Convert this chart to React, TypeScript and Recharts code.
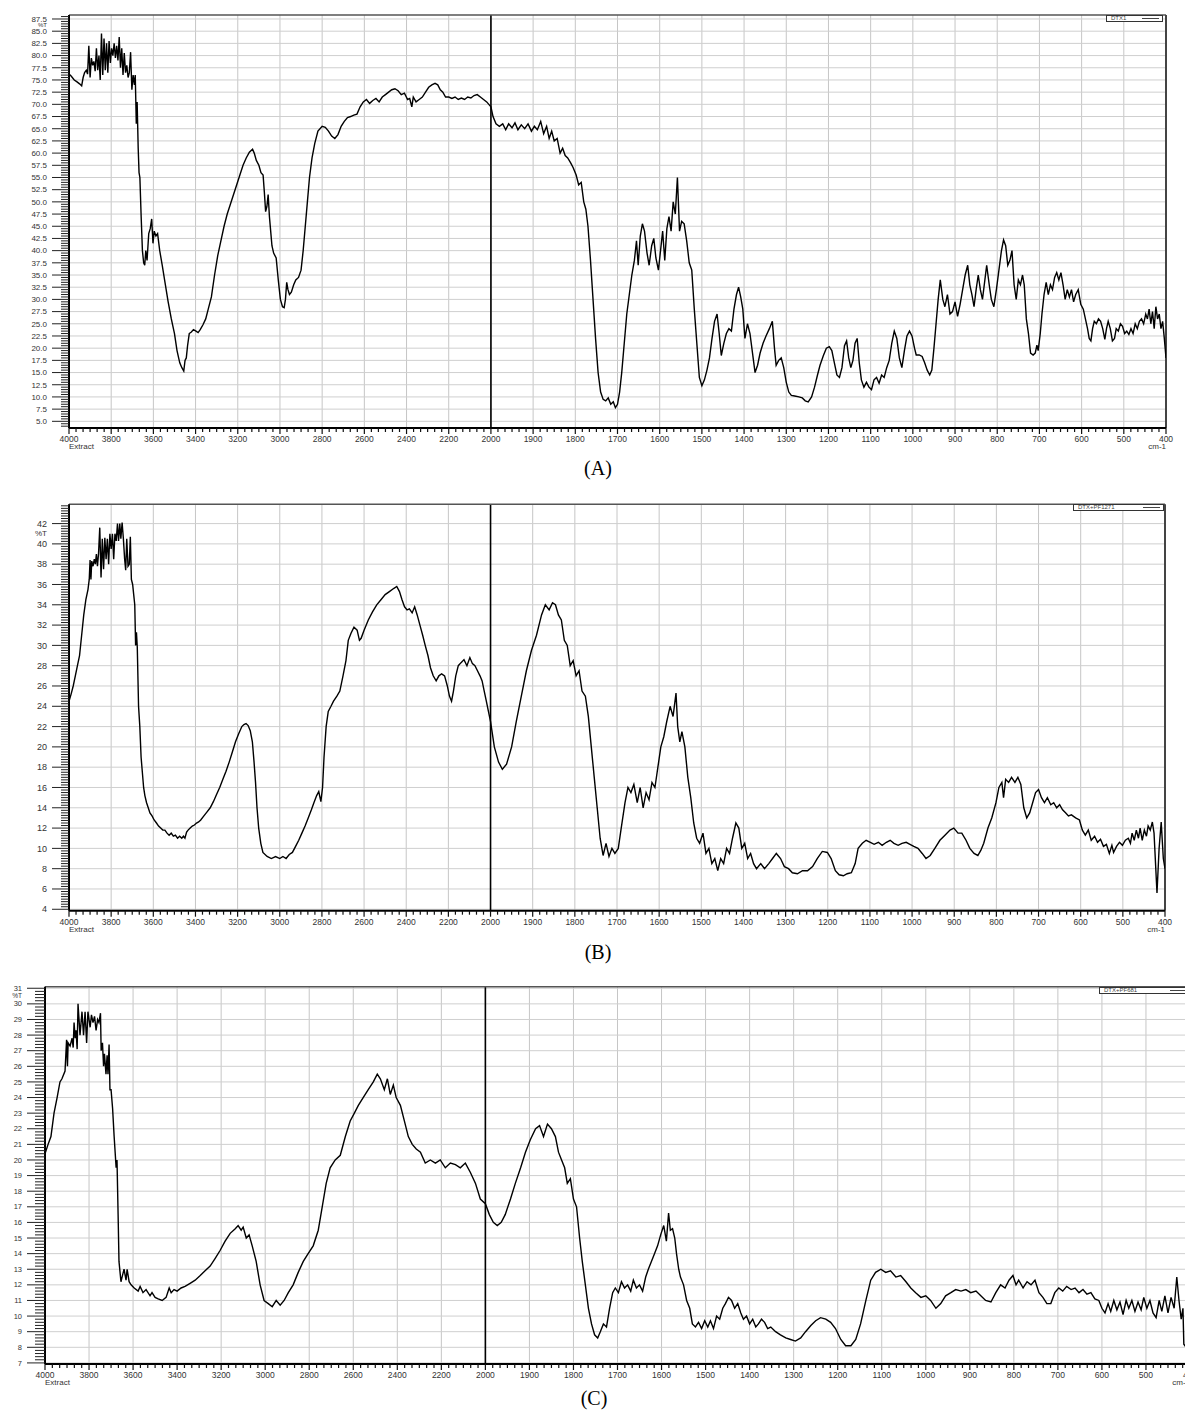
import React from 'react';
import { LineChart, Line, XAxis, YAxis, ReferenceLine } from 'recharts';

// ---------- DATA: [wavenumber cm-1, %T] ----------
const SPEC_A: [number, number][] = [
  [4000,76.2],[3990,75.8],[3975,75.0],[3962,74.6],[3950,74.2],[3940,73.8],[3933,75.5],[3926,76.5],[3918,77],[3912,76.2],
  [3906,82],[3900,75.5],[3894,79.5],[3888,78],[3882,78.8],[3876,76.8],[3870,81.5],[3864,77],[3858,80],[3852,75],
  [3846,84.5],[3840,76],[3834,83.5],[3828,77],[3822,82.5],[3816,76.5],[3810,83],[3804,78.5],[3798,81.5],[3792,80],
  [3786,82.5],[3780,79.5],[3774,82],[3768,79],[3762,83.8],[3756,77.5],[3750,81.5],[3744,76],[3738,80.5],[3732,76.5],
  [3726,78],[3720,75.5],[3714,76.5],[3708,80.7],[3702,73],[3696,76],[3690,74],[3686,76],[3681,66],[3677,70.5],
  [3672,61],[3668,56],[3664,55],[3658,47],[3652,40],[3646,37.5],[3641,37],[3636,40],[3630,38],[3622,43.5],
  [3615,44.5],[3608,46.5],[3602,41.5],[3596,44],[3588,43],[3580,43.5],[3570,40],[3558,37],[3545,33.5],[3530,29.5],
  [3515,26],[3500,23],[3488,19.5],[3475,17],[3465,16],[3456,15.3],[3450,17.5],[3444,18],[3438,20.5],[3430,23],
  [3420,23.3],[3410,23.8],[3398,23.5],[3388,23.2],[3378,23.8],[3365,24.8],[3352,26],[3340,28],[3325,30.5],[3310,35],
  [3295,39],[3280,42],[3265,45],[3250,47.5],[3235,49.5],[3220,51.5],[3205,53.5],[3190,55.5],[3175,57.5],[3160,59],
  [3145,60.2],[3130,60.8],[3122,60],[3112,58.5],[3100,57.5],[3090,56],[3080,55.5],[3074,52],[3068,48],[3062,49],
  [3056,51.5],[3050,47],[3044,44],[3038,41],[3030,39.5],[3018,38.5],[3008,34],[2998,30],[2988,28.5],[2980,28.3],
  [2974,30],[2968,33.5],[2962,32],[2955,31],[2946,31.5],[2935,33],[2925,34],[2912,34.5],[2900,36],[2890,40],
  [2880,45],[2870,50],[2860,55],[2848,59],[2835,62],[2820,64.5],[2800,65.5],[2785,65.3],[2770,64.5],[2755,63.5],
  [2740,63],[2725,63.8],[2710,65.5],[2695,66.5],[2680,67.3],[2665,67.5],[2650,67.8],[2635,68],[2620,69.5],[2605,70.5],
  [2590,71],[2575,70.2],[2560,70.8],[2545,71.2],[2530,70.5],[2515,71.5],[2500,72],[2485,72.5],[2470,73],[2455,73.2],
  [2440,72.8],[2425,72],[2410,72.3],[2395,71],[2385,71.2],[2375,69.5],[2368,71.5],[2355,70.5],[2340,71],[2325,71.5],
  [2310,72.5],[2295,73.5],[2280,74],[2265,74.3],[2252,74],[2240,73],[2228,72.5],[2215,71.5],[2200,71.5],[2185,71.2],
  [2170,71.5],[2155,71],[2140,71.3],[2125,71],[2110,71.5],[2095,71.3],[2080,71.8],[2065,72],[2050,71.5],[2035,71],
  [2020,70.5],[2010,70],[2000,69.5],
  [1995,67.5],[1988,66],[1980,65.5],[1972,66],[1965,64.8],[1958,66],[1950,65.2],[1943,66.2],[1936,64.8],[1928,65.8],
  [1920,65],[1912,66],[1904,64.5],[1897,65.5],[1890,64.8],[1882,66.5],[1875,64],[1868,65.5],[1862,63],[1856,64.5],
  [1850,62.5],[1843,63],[1836,60],[1830,61],[1824,59.5],[1818,59],[1811,58],[1805,57],[1798,55.5],[1792,53.5],
  [1786,54],[1780,50],[1775,48.5],[1770,45],[1764,38],[1758,30],[1752,22],[1746,15],[1740,11],[1734,9.5],
  [1728,9.2],[1722,9.8],[1716,8.5],[1710,9],[1705,7.8],[1700,8.5],[1695,11],[1690,15],[1684,21],[1678,27],
  [1672,31],[1666,35],[1660,38],[1655,42],[1651,37],[1646,43],[1641,45.5],[1636,44],[1630,39.5],[1625,37],
  [1619,41],[1614,42.5],[1609,38.5],[1603,36],[1598,40],[1593,44],[1588,38],[1583,44.5],[1578,47],[1573,44],
  [1568,50],[1563,47.5],[1558,55],[1553,44],[1548,46],[1542,45.5],[1536,42],[1530,37.5],[1524,36],[1518,28],
  [1512,21],[1506,14],[1500,12.3],[1494,13.5],[1488,15.5],[1482,18],[1476,22],[1470,25.5],[1464,27],[1459,23],
  [1454,18.5],[1448,21],[1442,23],[1436,24],[1430,23.5],[1424,28],[1418,31],[1413,32.5],[1408,30.5],[1403,28],
  [1398,22],[1392,25],[1386,23],[1380,19],[1374,15],[1368,16.5],[1362,19],[1355,21],[1348,22.5],[1340,24],
  [1333,25.5],[1328,20],[1324,16.5],[1318,17.5],[1312,18],[1306,16],[1300,13],[1294,11],[1288,10.3],[1280,10.2],
  [1270,10],[1262,9.8],[1255,9.2],[1248,9],[1240,10],[1233,12],[1226,14.5],[1220,16.5],[1212,18.5],[1205,20],
  [1198,20.3],[1192,19.5],[1186,17],[1180,14.5],[1174,14],[1168,16],[1162,20.5],[1157,21.5],[1152,18],[1147,16],
  [1142,17.5],[1137,21],[1132,22],[1127,17],[1122,13.5],[1116,12],[1110,13],[1104,12],[1098,11.5],[1092,13.5],
  [1086,14],[1080,12.8],[1074,14.5],[1068,14],[1062,16],[1056,17.5],[1050,21],[1044,23.5],[1038,22],[1032,18],
  [1026,16],[1020,19.5],[1014,22.5],[1008,23.5],[1002,22.5],[996,20],[992,18.6],[985,18.6],[978,18.3],[972,17],
  [966,15.5],[960,14.5],[955,15.5],[950,20],[945,25],[940,30],[935,34],[929,30],[924,28.5],[918,31],
  [912,27],[906,27.5],[900,29.5],[894,26.5],[888,29],[882,32],[876,35],[870,37],[865,33],[860,31],
  [855,28.5],[850,32],[845,35],[840,32],[835,30],[830,33.5],[825,37],[819,33],[814,30],[808,28.5],
  [802,32],[796,36],[790,40],[785,42.2],[780,41],[775,37],[770,38],[765,40],[760,33],[755,30],
  [750,34],[745,33],[740,35],[736,33],[731,26],[726,23],[721,19],[715,18.6],[710,19],[706,20.6],
  [703,19.5],[698,23],[694,27],[689,31],[684,33.5],[679,31],[674,33],[669,32],[664,34.5],[659,35.5],
  [654,34],[649,35.5],[644,33],[639,30],[634,32],[629,30.5],[624,32],[619,29.5],[614,31],[608,32],
  [602,29],[596,28],[591,26],[586,24],[582,22],[578,21.5],[574,24],[570,25.5],[565,25],[560,26],
  [555,25.5],[550,24],[545,21.8],[541,24],[537,25.5],[532,24],[527,21.5],[522,22],[518,24],[513,23.5],
  [508,25],[503,24.5],[498,23],[493,23.5],[488,22.8],[483,24],[478,23],[473,25],[468,24],[463,25.5],
  [458,26],[453,25],[448,27],[444,26],[440,28],[436,25],[432,27.5],[428,24],[424,28.5],[420,26],
  [416,27],[412,24],[408,25.5],[404,22],[400,18],
];

const SPEC_B: [number, number][] = [
  [4000,24.5],[3990,25.2],[3980,26],[3970,27],[3960,28],[3950,29],[3940,31],[3930,33],[3920,34.5],[3910,35.5],
  [3904,36.5],[3900,38.4],[3896,36.5],[3892,38.3],[3886,37.8],[3880,38.5],[3875,38],[3870,39],[3865,37.8],[3860,39],
  [3854,41.6],[3848,36.7],[3842,40.5],[3836,37.5],[3830,40.6],[3824,38.5],[3818,40.5],[3812,38],[3806,41],[3800,39.5],
  [3794,41],[3788,38.5],[3782,41],[3776,40.3],[3770,42],[3765,40.3],[3759,42],[3754,40.5],[3748,42.1],[3742,40.5],
  [3736,38.5],[3731,37.4],[3726,40.5],[3720,37.8],[3714,38],[3709,40.7],[3704,36.5],[3698,36],[3693,35],[3688,34],
  [3684,30],[3680,31.3],[3676,29.8],[3670,24],[3664,22],[3658,19],[3652,17.5],[3646,16],[3640,15.2],[3632,14.5],
  [3624,14],[3616,13.5],[3606,13.2],[3596,12.8],[3585,12.5],[3575,12.2],[3565,12],[3555,11.8],[3545,11.8],[3535,11.5],
  [3525,11.3],[3515,11.5],[3505,11.2],[3495,11.3],[3485,11],[3475,11.2],[3465,11],[3457,11.2],[3450,11],[3442,11.6],
  [3435,11.8],[3425,12],[3415,12.2],[3405,12.3],[3395,12.5],[3385,12.6],[3375,12.8],[3360,13.2],[3345,13.6],[3330,14],
  [3315,14.6],[3300,15.3],[3285,16],[3270,16.8],[3255,17.6],[3240,18.5],[3225,19.5],[3210,20.5],[3195,21.3],[3180,22],
  [3170,22.2],[3160,22.3],[3150,22.1],[3140,21.6],[3130,20.5],[3122,18.5],[3115,16.5],[3108,14],[3100,12],[3090,10.5],
  [3080,9.6],[3060,9.2],[3040,9.0],[3020,9.2],[3000,9.0],[2985,9.2],[2970,9.0],[2955,9.4],[2940,9.6],[2925,10.2],
  [2910,10.8],[2895,11.5],[2880,12.2],[2865,13],[2850,13.8],[2838,14.5],[2825,15.2],[2815,15.6],[2805,14.6],[2797,16],
  [2790,19],[2780,22],[2770,23.5],[2757,24],[2745,24.5],[2729,25],[2715,25.5],[2700,27],[2686,28.5],[2675,30.5],
  [2662,31.2],[2648,31.8],[2633,31.5],[2622,30.5],[2614,30.7],[2600,31.5],[2580,32.5],[2560,33.3],[2540,34],[2520,34.5],
  [2500,35],[2480,35.3],[2460,35.6],[2445,35.8],[2432,35.3],[2420,34.5],[2408,33.8],[2396,33.5],[2385,33.6],[2372,33.2],
  [2360,33.8],[2348,33],[2335,32],[2322,31],[2310,30],[2297,29],[2285,27.8],[2272,27],[2258,26.5],[2245,27],
  [2232,27.2],[2218,27],[2205,26],[2195,25],[2185,24.5],[2176,25.5],[2165,27],[2153,28],[2140,28.3],[2126,28.6],
  [2112,28],[2098,28.8],[2086,28.2],[2074,28],[2062,27.5],[2050,27],[2040,26.5],[2030,25.5],[2020,24.5],[2010,23.5],
  [2000,22.5],
  [1991,20],[1981,18.5],[1972,17.8],[1962,18.3],[1950,20],[1939,22.5],[1927,25],[1915,27.5],[1903,29.5],[1891,31],
  [1879,33],[1870,34],[1861,33.5],[1853,34.2],[1846,34],[1839,33],[1832,32.5],[1825,30.5],[1818,30],[1811,28],
  [1804,28.5],[1797,27],[1790,27.5],[1783,25.5],[1775,25],[1768,23],[1761,20],[1754,17],[1747,14],[1740,11],
  [1733,9.3],[1726,10.5],[1719,9.2],[1712,10],[1705,9.5],[1697,10],[1690,12],[1681,14.5],[1674,16],[1667,15.5],
  [1660,16.3],[1652,14.5],[1645,16],[1638,14],[1631,15.5],[1624,14.8],[1617,16.5],[1610,16],[1603,18],[1596,20],
  [1589,21],[1582,22.5],[1574,24],[1567,23],[1560,25.3],[1556,22],[1551,20.5],[1546,21.5],[1539,20],[1532,17],
  [1525,15],[1518,12.5],[1511,11],[1504,10.5],[1496,11.5],[1489,9.5],[1482,10],[1475,8.5],[1468,9],[1461,7.8],
  [1454,9],[1447,8.5],[1440,10],[1433,9.5],[1426,11],[1418,12.5],[1411,12],[1404,10],[1397,10.5],[1390,9],
  [1383,9.5],[1376,8.5],[1369,8],[1359,8.5],[1350,8],[1340,8.5],[1331,9],[1322,9.5],[1312,9],[1303,8.2],
  [1293,8],[1284,7.6],[1272,7.5],[1260,7.8],[1248,7.8],[1236,8.2],[1225,9],[1213,9.7],[1201,9.6],[1192,9],
  [1182,7.8],[1173,7.4],[1163,7.3],[1154,7.5],[1144,7.6],[1135,8.5],[1128,10],[1118,10.5],[1109,10.8],[1099,10.6],
  [1090,10.4],[1080,10.6],[1071,10.3],[1061,10.6],[1052,10.8],[1043,10.5],[1033,10.3],[1024,10.5],[1014,10.6],[1005,10.4],
  [996,10.2],[986,10],[976,9.5],[967,9],[957,9.3],[946,10],[934,10.8],[922,11.3],[910,11.8],[901,12],
  [891,11.5],[882,11.5],[872,10.8],[863,10],[853,9.5],[844,9.3],[837,9.8],[830,10.5],[820,12],[811,13],
  [801,14.5],[794,16],[787,16.5],[783,15],[778,16.8],[771,16.5],[764,17],[756,16.5],[749,17],[742,16.3],
  [735,14],[728,13],[721,13.5],[714,14.5],[707,15.5],[700,15.8],[693,15],[686,14.5],[679,15],[671,14.3],
  [664,14.5],[657,14],[650,14.3],[643,13.8],[636,13.5],[629,13.2],[622,13.3],[612,13],[603,12.8],[596,11.8],
  [589,11.3],[582,11.8],[575,10.8],[567,11.2],[560,10.6],[553,10.9],[546,10.2],[539,10.4],[532,9.5],[526,10.3],
  [522,9.6],[515,10.2],[508,10.6],[501,10.3],[494,10.8],[487,11],[482,10.5],[478,11.5],[473,10.8],[468,11.8],
  [463,11],[459,12],[454,10.8],[449,11.8],[444,11.2],[440,12.2],[435,11.8],[430,12.6],[426,11.5],[419,5.6],
  [414,10],[409,12.6],[404,9],[400,8],
];

const SPEC_C: [number, number][] = [
  [4000,20.4],[3986,21],[3973,21.5],[3959,23],[3945,24],[3932,25],[3923,25.2],[3909,25.7],[3902,27.7],[3898,26],
  [3895,27.5],[3886,27.3],[3877,27.8],[3872,27.2],[3868,28.8],[3863,27.8],[3859,28.3],[3854,27.1],[3850,30],[3841,28],
  [3832,29.5],[3825,28],[3818,29.5],[3811,27.5],[3805,29.5],[3795,28.5],[3789,29.3],[3782,28.8],[3775,29.2],[3768,28.3],
  [3761,29],[3755,28.8],[3748,29.4],[3745,27],[3739,27.5],[3734,26],[3730,26.8],[3723,25.5],[3718,26.7],[3714,25.5],
  [3709,27.4],[3705,24.5],[3700,24.5],[3693,23.3],[3686,21.5],[3677,19.5],[3673,20],[3668,16.5],[3664,13.5],[3655,12.2],
  [3650,12.5],[3641,13],[3632,12.3],[3627,13],[3618,12.2],[3609,12],[3595,11.8],[3577,11.6],[3568,11.9],[3555,11.5],
  [3541,11.7],[3523,11.3],[3514,11.5],[3500,11.2],[3486,11.1],[3468,11],[3450,11.2],[3436,11.8],[3427,11.5],[3414,11.7],
  [3400,11.6],[3382,11.8],[3364,11.9],[3341,12.1],[3318,12.3],[3295,12.6],[3273,12.9],[3250,13.2],[3227,13.7],[3205,14.2],
  [3182,14.8],[3159,15.3],[3136,15.6],[3123,15.8],[3109,15.5],[3100,15.7],[3086,15],[3073,15.2],[3059,14.5],[3041,13.5],
  [3023,12],[3005,11],[2986,10.8],[2968,10.6],[2950,11],[2932,10.7],[2914,11],[2895,11.5],[2873,12],[2850,12.8],
  [2827,13.5],[2805,14],[2782,14.5],[2759,15.5],[2741,17],[2723,18.5],[2705,19.5],[2682,20],[2659,20.3],[2636,21.5],
  [2614,22.5],[2595,23],[2577,23.5],[2555,24],[2532,24.5],[2509,25],[2491,25.5],[2477,25.2],[2459,24.5],[2445,25.2],
  [2432,24.2],[2418,24.8],[2405,24],[2386,23.5],[2368,22.5],[2350,21.5],[2332,21],[2314,20.7],[2295,20.5],[2273,19.8],
  [2250,20],[2227,19.8],[2205,20],[2182,19.5],[2159,19.8],[2136,19.7],[2114,19.5],[2091,19.8],[2068,19.2],[2045,18.5],
  [2023,17.5],[2000,17.2],
  [1991,16.5],[1982,16],[1973,15.8],[1964,16],[1955,16.5],[1943,17.5],[1932,18.5],[1920,19.5],[1909,20.5],[1898,21.3],
  [1886,22],[1877,22.2],[1868,21.5],[1859,22.3],[1850,22],[1841,21.5],[1834,20.5],[1827,20],[1820,19.5],[1814,18.5],
  [1807,18.8],[1800,17.5],[1793,17],[1786,15],[1780,13.5],[1773,12],[1766,10.5],[1759,9.5],[1752,8.8],[1745,8.6],
  [1739,9],[1732,9.5],[1725,9.3],[1718,10.5],[1711,11.5],[1705,11.8],[1698,11.5],[1691,12.2],[1684,11.8],[1677,12],
  [1670,11.6],[1664,12.3],[1657,11.8],[1650,12],[1643,11.6],[1636,12.5],[1630,13],[1623,13.5],[1616,14],[1609,14.5],
  [1602,15.2],[1595,15.8],[1589,14.8],[1584,16.6],[1580,15.5],[1575,15.6],[1570,15],[1566,14],[1561,13],[1557,12.5],
  [1550,12],[1543,11],[1536,10.5],[1530,9.5],[1523,9.3],[1516,9.6],[1509,9.2],[1502,9.7],[1495,9.3],[1489,9.7],
  [1482,9.2],[1475,10],[1468,9.8],[1461,10.5],[1455,10.8],[1448,11.2],[1441,11],[1434,10.5],[1427,10.8],[1420,10.2],
  [1414,9.8],[1407,10],[1400,9.5],[1393,9.8],[1386,9.3],[1380,9.5],[1373,9.8],[1366,9.6],[1359,9.2],[1352,9.3],
  [1341,9],[1330,8.8],[1318,8.6],[1307,8.5],[1296,8.4],[1284,8.6],[1273,9],[1261,9.4],[1250,9.7],[1239,9.9],
  [1227,9.8],[1216,9.6],[1205,9.2],[1193,8.5],[1182,8.1],[1170,8.1],[1159,8.5],[1148,9.5],[1136,11],[1125,12.3],
  [1114,12.8],[1102,13],[1091,12.8],[1080,12.9],[1068,12.5],[1057,12.6],[1045,12.2],[1034,11.8],[1023,11.5],[1011,11.2],
  [1000,11.3],[989,11],[977,10.5],[966,10.8],[955,11.3],[943,11.5],[932,11.7],[920,11.6],[909,11.7],[898,11.5],
  [886,11.6],[875,11.3],[864,11],[852,10.9],[841,11.5],[830,12],[820,11.8],[811,12.3],[802,12.6],[795,12],
  [789,12.3],[779,11.8],[770,12.2],[761,12],[752,12.3],[743,11.5],[734,11.2],[725,10.8],[716,10.8],[707,11.5],
  [698,11.8],[689,11.6],[680,11.9],[670,11.7],[661,11.8],[652,11.5],[643,11.7],[634,11.4],[625,11.5],[616,11.1],
  [607,11],[600,10.5],[593,10.2],[586,10.8],[580,10.3],[573,11],[566,10.4],[559,10.9],[552,10.1],[545,11],
  [539,10.5],[532,11],[525,10.3],[518,10.9],[511,10.4],[505,11.2],[498,10.5],[491,11],[484,10.2],[477,9.9],
  [470,11],[464,10.3],[457,11.3],[450,10.2],[443,11.2],[436,10.5],[430,12.5],[425,11],[420,9.8],[416,10.5],
  [414,8.2],[409,8],[400,8],
];

const X_MAJOR_WN = [4000,3800,3600,3400,3200,3000,2800,2600,2400,2200,2000,1900,1800,1700,1600,1500,1400,1300,1200,1100,1000,900,800,700,600,500,400];
const PANEL_LABELS = ['(A)', '(B)', '(C)'];
const LEGEND_NAMES = ['DTX1', 'DTX+PF1271', 'DTX+PF681'];

// instrument scale: 200 cm-1 per division above 2000, 100 cm-1 per division below
const toPos = (w: number) => (w >= 2000 ? (4000 - w) / 200 : 10 + (2000 - w) / 100);
const fromPos = (p: number) => (p <= 10 ? 4000 - p * 200 : 2000 - (p - 10) * 100);

const X_MAJOR_POS = X_MAJOR_WN.map(toPos);
const X_TICKS: number[] = [];
for (let i = 0; i <= 26 * 6; i++) X_TICKS.push(Math.round((i / 6) * 1e6) / 1e6);

function range(start: number, end: number, step: number) {
  const out: number[] = [];
  const n = Math.round((end - start) / step);
  for (let i = 0; i <= n; i++) out.push(Math.round((start + i * step) * 1e6) / 1e6);
  return out;
}

const SANS = 'Liberation Sans, Arial, sans-serif';

const XTick = (props: any) => {
  const { x, y, payload, fs } = props;
  const v = payload.value as number;
  const major = Math.abs(v - Math.round(v)) < 1e-6;
  const r = Math.round(v);
  return (
    <g>
      <line x1={x} x2={x} y1={y} y2={y + (major ? 6 : 4)} stroke="#111" strokeWidth={1.2} />
      {major && (
        <text x={x} y={y + 14} textAnchor="middle" fontSize={fs} fill="#333" fontFamily={SANS}>
          {Math.round(fromPos(v))}
        </text>
      )}
      {major && r === 0 && (
        <text x={x} y={y + 21} textAnchor="start" fontSize={fs - 0.5} fill="#333" fontFamily={SANS}>Extract</text>
      )}
      {major && r === 26 && (
        <text x={x} y={y + 21} textAnchor="end" fontSize={fs - 0.5} fill="#333" fontFamily={SANS}>cm-1</text>
      )}
    </g>
  );
};

const YTick = (props: any) => {
  const { x, y, payload, step, dec, fs, top, majLen, minLen, gap, unitDy, unitFs } = props;
  const v = payload.value as number;
  const major = Math.abs(v / step - Math.round(v / step)) < 1e-6;
  return (
    <g>
      <line x1={x - (major ? majLen : minLen)} x2={x} y1={y} y2={y} stroke="#222" strokeWidth={1} />
      {major && (
        <text x={x - gap} y={y} dy="0.35em" textAnchor="end" fontSize={fs} fill="#333" fontFamily={SANS}>
          {v.toFixed(dec)}
        </text>
      )}
      {major && Math.abs(v - top) < 1e-6 && (
        <text x={x - gap} y={y + unitDy} dy="0.35em" textAnchor="end" fontSize={unitFs} fill="#333" fontFamily={SANS}>
          %T
        </text>
      )}
    </g>
  );
};

type PanelProps = {
  spec: [number, number][];
  yDomain: [number, number];
  yTicks: number[];
  yMajors: number[];
  step: number;
  dec: number;
  width: number;
  height: number;
  margin: { top: number; right: number; bottom: number; left: number };
  yAxisWidth: number;
  fs: number;
  xfs: number;
  majLen: number;
  minLen: number;
  gap: number;
  unitDy: number;
  unitFs: number;
};

function Panel(p: PanelProps) {
  const data = p.spec.map(([w, t]) => ({ p: toPos(w), t }));
  const topLabel = p.yMajors[p.yMajors.length - 1];
  return (
    <LineChart width={p.width} height={p.height} data={data} margin={p.margin}>
      {X_MAJOR_POS.map((x) => (
        <ReferenceLine key={'gx' + x} x={x} stroke="#c6c6c6" strokeWidth={1} />
      ))}
      {p.yMajors.map((y) => (
        <ReferenceLine key={'gy' + y} y={y} stroke="#cfcfcf" strokeWidth={1} />
      ))}
      <ReferenceLine x={toPos(2000)} stroke="#000" strokeWidth={1.6} />
      <ReferenceLine y={p.yDomain[1]} stroke="#555" strokeWidth={1.5} />
      <ReferenceLine x={26} stroke="#444" strokeWidth={2} />
      <XAxis
        type="number"
        dataKey="p"
        domain={[0, 26]}
        allowDataOverflow
        ticks={X_TICKS}
        interval={0}
        tickLine={false}
        tickSize={0}
        tickMargin={0}
        height={30}
        axisLine={{ stroke: '#000', strokeWidth: 2 }}
        tick={(tp: any) => <XTick {...tp} fs={p.xfs} />}
      />
      <YAxis
        type="number"
        domain={p.yDomain}
        allowDataOverflow
        ticks={p.yTicks}
        interval={0}
        tickLine={false}
        tickSize={0}
        tickMargin={0}
        width={p.yAxisWidth}
        axisLine={{ stroke: '#000', strokeWidth: 2 }}
        tick={(tp: any) => (
          <YTick
            {...tp}
            step={p.step}
            dec={p.dec}
            fs={p.fs}
            top={topLabel}
            majLen={p.majLen}
            minLen={p.minLen}
            gap={p.gap}
            unitDy={p.unitDy}
            unitFs={p.unitFs}
          />
        )}
      />
      <Line
        type="linear"
        dataKey="t"
        stroke="#000"
        strokeWidth={1.4}
        dot={false}
        activeDot={false}
        isAnimationActive={false}
      />
    </LineChart>
  );
}

function LegendTag({ left, top, width, name }: { left: number; top: number; width: number; name: string }) {
  return (
    <div
      style={{
        position: 'absolute',
        left,
        top,
        width,
        height: 5,
        border: '1px solid #333',
        background: '#fff',
        fontFamily: SANS,
        fontSize: 6,
        lineHeight: '5px',
        color: '#444',
        overflow: 'hidden',
        whiteSpace: 'nowrap',
      }}
    >
      <span style={{ position: 'absolute', left: 4, top: 0 }}>{name}</span>
      <span style={{ position: 'absolute', right: 3, top: 2, width: 17, borderTop: '1px solid #444' }} />
    </div>
  );
}

function PanelLabel({ text, cx, top }: { text: string; cx: number; top: number }) {
  return (
    <div
      style={{
        position: 'absolute',
        left: cx - 50,
        top,
        width: 100,
        textAlign: 'center',
        fontFamily: 'Liberation Serif, Times New Roman, serif',
        fontSize: 20,
        lineHeight: '24px',
        color: '#000',
      }}
    >
      {text}
    </div>
  );
}

const A_MAJ = range(5, 87.5, 2.5);
const A_TICKS = range(4, 88, 0.5);
const B_MAJ = range(4, 42, 2);
const B_TICKS = range(4, 43.75, 0.25);
const C_MAJ = range(7, 31, 1);
const C_TICKS = range(7, 31, 0.2);

export default function App() {
  return (
    <div style={{ position: 'absolute', left: 0, top: 0, width: 1185, height: 1414, overflow: 'hidden', background: '#fff' }}>
      <div style={{ position: 'absolute', left: 0, top: 0 }}>
        <Panel
          spec={SPEC_A}
          yDomain={[3.63, 88.32]}
          yTicks={A_TICKS}
          yMajors={A_MAJ}
          step={2.5}
          dec={1}
          width={1185}
          height={470}
          margin={{ top: 15, right: 19, bottom: 12, left: 9 }}
          yAxisWidth={60}
          fs={8}
          xfs={8.5}
          majLen={17}
          minLen={8}
          gap={22}
          unitDy={6}
          unitFs={6}
        />
      </div>
      <div style={{ position: 'absolute', left: 0, top: 490 }}>
        <Panel
          spec={SPEC_B}
          yDomain={[3.86, 43.9]}
          yTicks={B_TICKS}
          yMajors={B_MAJ}
          step={2}
          dec={0}
          width={1185}
          height={460}
          margin={{ top: 14.3, right: 20, bottom: 9.3, left: 9 }}
          yAxisWidth={60}
          fs={9}
          xfs={8.5}
          majLen={17}
          minLen={8}
          gap={22}
          unitDy={9.5}
          unitFs={8}
        />
      </div>
      <div style={{ position: 'absolute', left: 0, top: 975 }}>
        <Panel
          spec={SPEC_C}
          yDomain={[6.93, 31.1]}
          yTicks={C_TICKS}
          yMajors={C_MAJ}
          step={1}
          dec={0}
          width={1200}
          height={430}
          margin={{ top: 11.7, right: 10, bottom: 11, left: 5 }}
          yAxisWidth={40}
          fs={7.5}
          xfs={8.5}
          majLen={18}
          minLen={10}
          gap={23}
          unitDy={7.5}
          unitFs={6.5}
        />
      </div>
      <LegendTag left={1106} top={15} width={55} name={LEGEND_NAMES[0]} />
      <LegendTag left={1073} top={504} width={89} name={LEGEND_NAMES[1]} />
      <LegendTag left={1099} top={987} width={90} name={LEGEND_NAMES[2]} />
      <PanelLabel text={PANEL_LABELS[0]} cx={598} top={456} />
      <PanelLabel text={PANEL_LABELS[1]} cx={598} top={940} />
      <PanelLabel text={PANEL_LABELS[2]} cx={594} top={1386} />
    </div>
  );
}
